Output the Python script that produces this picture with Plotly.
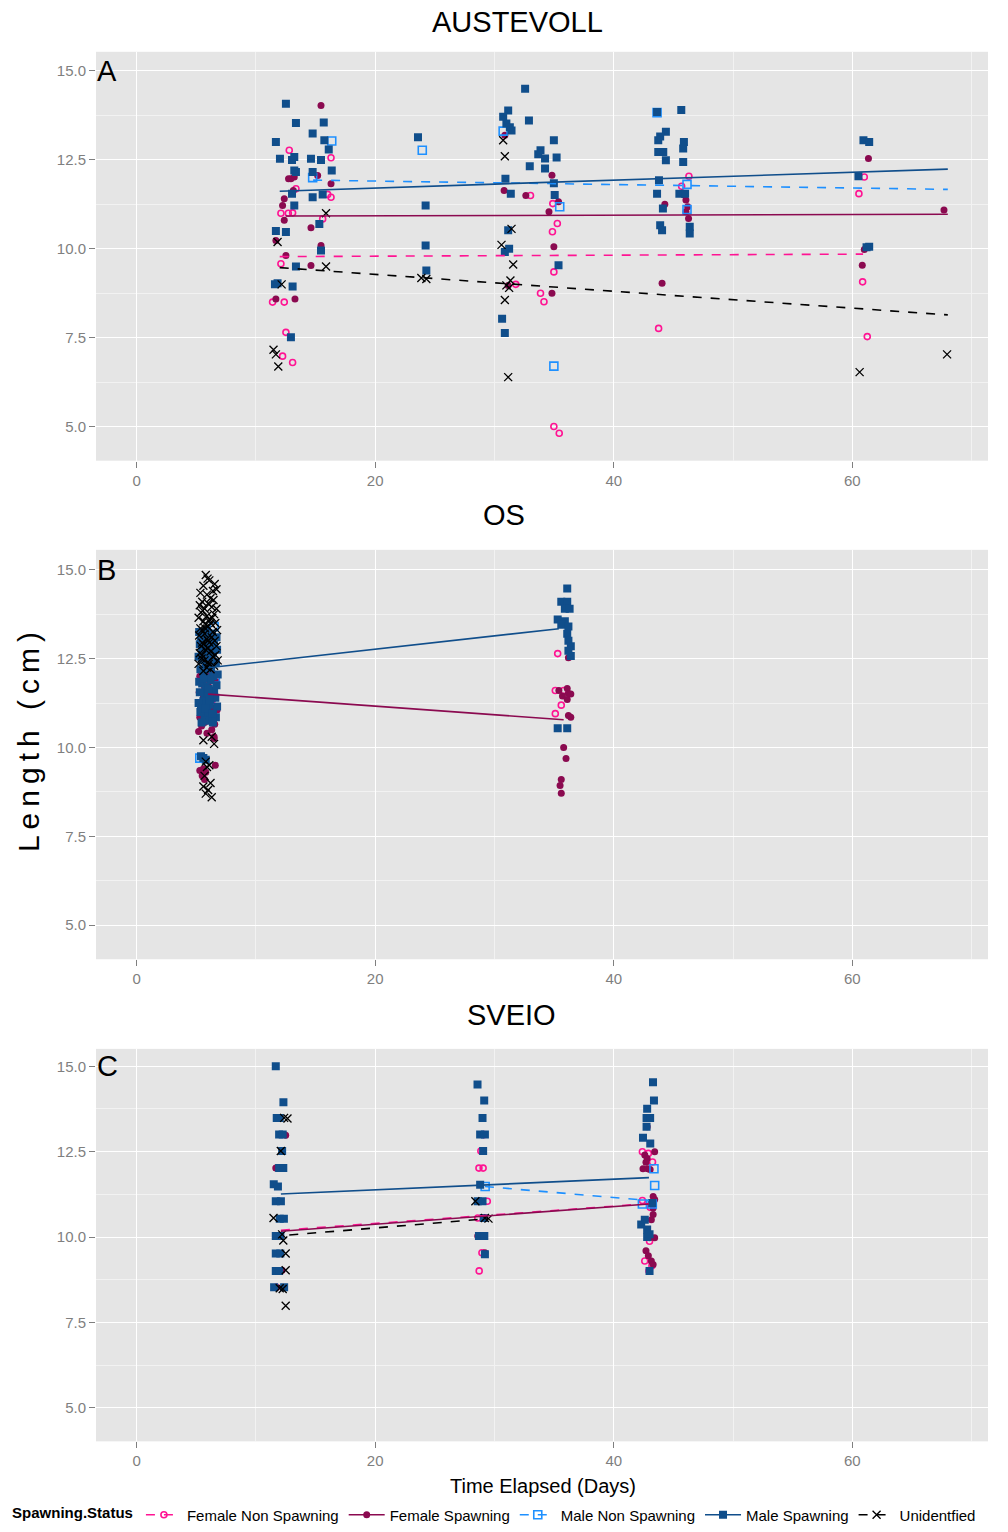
import plotly.graph_objects as go

# ---------------- DATA ----------------
categories = ["Female Non Spawning", "Female Spawning", "Male Non Spawning", "Male Spawning", "Unidentfied"]
panel_titles = ["AUSTEVOLL", "OS", "SVEIO"]
panel_letters = ["A", "B", "C"]
x_ticks = [0, 20, 40, 60]
y_ticks = [5.0, 7.5, 10.0, 12.5, 15.0]

# ---- Panel A : AUSTEVOLL ----
a_fns_x = [12.8, 16.3, 13.36, 16.02, 16.3, 12.1, 12.72, 13.08, 15.6, 12.1, 11.4, 12.38, 12.52, 12.24, 13.08,
           31.79, 33.86, 33.02, 34.89, 35.27, 34.86, 34.98, 34.15, 34.98, 35.43, 43.76, 45.69, 46.3, 60.55, 61.0, 60.86, 61.25]
a_fns_y = [12.77, 12.56, 11.69, 11.53, 11.45, 11.0, 11.0, 11.01, 10.84, 9.58, 8.5, 8.5, 7.65, 6.98, 6.8,
           9.0, 8.75, 11.5, 11.27, 10.71, 10.48, 9.35, 8.51, 5.0, 4.81, 7.76, 11.76, 12.04, 11.55, 12.02, 9.07, 7.53]
a_fs_x = [15.46, 13.22, 12.94, 12.74, 15.18, 16.3, 13.14, 12.38, 12.24, 12.38, 14.62, 11.68, 15.46, 12.52, 14.62, 11.68, 13.28,
          30.87, 30.81, 32.63, 31.15, 34.82, 34.57, 35.37, 34.98, 34.82, 44.05, 44.28, 45.95, 46.05, 46.05, 46.2, 46.27,
          61.35, 61.0, 60.83, 67.68]
a_fs_y = [14.03, 12.02, 11.97, 11.97, 12.06, 11.83, 11.64, 11.41, 11.22, 10.8, 10.59, 10.23, 10.09, 9.81, 9.53, 8.59, 8.59,
          13.19, 11.64, 11.5, 8.97, 12.07, 11.04, 11.32, 10.06, 8.75, 9.03, 11.25, 11.51, 11.37, 11.04, 11.18, 10.85,
          12.54, 9.98, 9.54, 11.09]
a_mns_x = [16.36, 14.76, 23.95, 30.73, 35.47, 34.98, 43.63, 46.14, 46.14]
a_mns_y = [13.03, 12.0, 12.77, 13.31, 11.18, 6.7, 13.83, 11.81, 11.1]
a_ms_x = [12.52, 13.36, 15.69, 14.76, 11.68, 15.74, 16.11, 12.02, 13.03, 13.22, 14.62, 15.46, 16.36, 13.22, 13.36, 14.76,
          13.03, 14.76, 15.6, 13.22, 15.32, 11.68, 12.52, 15.46, 13.36, 11.6, 11.82, 13.08, 12.94,
          23.59, 24.23, 24.23, 24.29, 31.15, 30.73, 31.0, 31.29, 31.43, 30.92, 31.37, 31.15, 31.23, 30.87, 30.64, 30.87,
          32.57, 32.89, 33.86, 33.67, 34.24, 32.96, 34.24, 34.98, 35.21, 34.98, 35.05, 35.37,
          43.63, 45.66, 44.37, 43.89, 43.73, 45.88, 45.82, 43.73, 44.15, 44.37, 45.82, 43.79, 43.63, 45.5, 45.98, 44.12,
          43.89, 44.05, 46.37, 46.37, 60.93, 61.41, 60.51, 61.41, 61.19]
a_ms_y = [14.08, 13.54, 13.55, 13.24, 13.0, 13.05, 12.79, 12.53, 12.5, 12.58, 12.53, 12.5, 12.2, 12.2, 12.16, 12.16,
          11.55, 11.45, 11.53, 11.22, 10.7, 10.5, 10.47, 9.95, 9.5, 9.0, 9.03, 8.94, 7.51,
          13.14, 11.22, 10.09, 9.39, 13.89, 13.71, 13.52, 13.42, 13.33, 11.97, 11.55, 10.52, 10.0, 9.91, 8.03, 7.63,
          14.5, 13.61, 12.77, 12.66, 12.54, 12.32, 12.26, 13.05, 12.57, 11.84, 11.51, 9.54,
          13.85, 13.9, 13.29, 13.16, 13.05, 13.0, 12.82, 12.72, 12.72, 12.49, 12.44, 11.93, 11.55, 11.55, 11.55, 11.13,
          10.66, 10.52, 10.62, 10.43, 13.05, 13.0, 12.04, 10.06, 10.04]
a_un_x = [15.88, 11.82, 15.88, 12.16, 11.48, 11.68, 11.88, 23.87, 24.29, 30.73, 30.87, 31.43, 30.59, 31.57,
          31.34, 31.0, 31.23, 30.87, 31.15, 60.61, 67.94]
a_un_y = [11.0, 10.19, 9.5, 9.0, 7.16, 7.03, 6.69, 9.18, 9.15, 13.05, 12.6, 10.56, 10.11, 9.56,
          9.11, 8.97, 8.9, 8.56, 6.39, 6.53, 7.03]

# fitted trend lines (start / end) per category, panel A
a_fit_x = {"Female Non Spawning": [12.0, 60.9], "Female Spawning": [12.5, 68.0],
           "Male Non Spawning": [14.8, 68.0], "Male Spawning": [12.0, 68.0], "Unidentfied": [12.0, 68.0]}
a_fit_y = {"Female Non Spawning": [9.78, 9.85], "Female Spawning": [10.92, 10.97],
           "Male Non Spawning": [11.93, 11.67], "Male Spawning": [11.62, 12.24], "Unidentfied": [9.47, 8.14]}

# ---- Panel B : OS ----
b_fns_x = [5.7, 6.3, 35.3, 35.1, 35.8, 35.6, 35.1]
b_fns_y = [12.6, 11.3, 12.64, 11.6, 11.6, 11.19, 10.95]
b_fs_x = [5.6, 6.2, 5.8, 6.4, 5.5, 6.0, 5.7, 6.3, 5.9, 5.6, 6.1, 5.8, 6.4, 5.5, 6.0, 6.2, 5.7, 6.3, 5.9, 6.5, 5.6, 5.8, 5.5, 5.7,
          5.3, 6.7, 5.25, 6.6, 5.4, 6.75, 5.3, 6.55, 5.2, 6.5, 6.1, 5.75, 6.4, 5.45, 6.6, 5.3,
          36.2, 35.4, 36.1, 36.2, 35.7, 36.4, 36.1, 36.2, 36.4, 35.8, 36.0, 35.6, 35.5, 35.6]
b_fs_y = [12.2, 12.1, 12.0, 11.9, 11.8, 11.75, 11.7, 11.6, 11.5, 11.4, 11.3, 11.2, 11.1, 11.0, 10.9, 10.8, 10.7, 10.5,
          10.4, 10.3, 9.4, 9.3, 9.2, 9.1,
          12.0, 11.85, 11.55, 11.45, 11.25, 11.05, 10.85, 10.65, 10.45, 10.25, 12.15, 11.35, 11.6, 10.6, 9.5, 9.35,
          12.52, 11.6, 11.66, 11.52, 11.45, 11.5, 11.35, 10.9, 10.85, 10.0, 9.69, 9.1, 8.93, 8.71]
b_mns_x = [6.5, 6.6, 5.3]
b_mns_y = [13.4, 11.95, 9.7]
b_ms_x = [5.9, 6.3, 5.6, 6.1, 5.4, 6.5, 5.8, 6.2, 5.5, 6.0, 6.4, 5.7, 6.1, 5.5, 6.3, 5.8, 6.0, 5.6, 6.4, 5.9, 6.2, 5.5,
          5.8, 6.5, 5.7, 6.0, 6.3, 5.6, 6.1, 5.4, 5.9, 6.4, 5.7, 6.2, 5.8, 5.4, 5.6, 5.8,
          5.25, 6.7, 5.3, 6.75, 5.2, 6.65, 5.35, 6.8, 5.25, 6.7, 5.3, 6.6, 5.2, 6.75, 5.35, 6.65, 5.45, 6.4, 6.05, 5.65,
          6.25, 5.85, 6.15, 5.75, 6.35,
          36.1, 35.6, 36.1, 35.9, 36.3, 35.3, 35.9, 35.6, 36.2, 36.1, 36.2, 36.4, 36.2, 36.4, 35.3, 36.1]
b_ms_y = [13.3, 13.2, 13.15, 13.1, 13.0, 12.95, 12.9, 12.85, 12.8, 12.7, 12.65, 12.6, 12.5, 12.45, 12.4, 12.3, 12.2,
          12.1, 12.0, 11.95, 11.9, 11.8, 11.7, 11.6, 11.5, 11.45, 11.4, 11.3, 11.2, 11.1, 11.0, 10.95, 10.9, 10.8, 10.75,
          9.75, 9.7, 9.65,
          13.25, 13.1, 12.9, 12.75, 12.55, 12.4, 12.2, 12.05, 11.85, 11.75, 11.55, 11.4, 11.25, 11.15, 11.0, 10.85,
          10.7, 10.7, 11.65, 11.95, 12.25, 12.55, 11.35, 11.1, 10.95,
          14.47, 14.1, 14.1, 13.9, 13.9, 13.6, 13.55, 13.45, 13.4, 13.2, 13.0, 12.85, 12.72, 12.57, 10.54, 10.54]
b_un_x = [5.8, 6.1, 5.6, 6.4, 5.9, 6.2, 5.5, 6.0, 6.3, 5.7, 5.4, 6.5, 5.9, 6.1, 5.6, 6.2, 5.8, 6.0, 5.5, 6.4, 5.7,
          6.3, 5.9, 6.1, 5.6, 6.0, 5.8, 6.2, 5.5, 6.4, 5.7, 6.0, 6.3, 5.6, 6.5, 5.8, 6.1, 5.9, 5.7, 6.2, 5.6, 6.0, 5.8, 6.3,
          5.3, 6.7, 5.2, 6.6, 5.35, 6.75, 5.25, 6.55, 5.4, 6.7, 5.3, 6.6, 5.45, 6.8, 5.2, 6.5, 5.9, 6.2, 5.6, 6.0,
          5.75, 6.35, 5.55, 6.05, 6.45, 5.35, 6.55, 5.95, 6.7, 5.5]
b_un_y = [14.85, 14.7, 14.55, 14.4, 14.3, 14.2, 14.1, 14.05, 13.95, 13.9, 13.8, 13.75, 13.7, 13.6, 13.55, 13.5, 13.45,
          13.4, 13.3, 13.25, 13.2, 13.1, 13.05, 12.95, 12.9, 12.8, 12.75, 12.7, 12.6, 12.55, 12.45, 12.4,
          10.3, 10.2, 10.1, 9.6, 9.5, 9.45, 9.2, 9.0, 8.9, 8.8, 8.7, 8.6,
          14.0, 13.9, 13.65, 13.5, 13.35, 13.3, 13.15, 13.0, 12.85, 12.85, 12.65, 12.6, 12.5, 12.45, 12.35, 12.3,
          12.25, 12.2, 12.15, 13.0, 13.35, 13.65, 13.85, 12.35, 14.15, 14.35, 14.6, 14.75, 14.45, 12.95]
b_fit_x = {"Female Spawning": [6.0, 35.8], "Male Spawning": [6.0, 35.4]}
b_fit_y = {"Female Spawning": [11.5, 10.78], "Male Spawning": [12.24, 13.34]}

# ---- Panel C : SVEIO ----
c_fns_x = [11.7, 29.14, 28.86, 28.7, 29.05, 29.4, 28.6, 29.0, 28.95, 28.72,
           42.4, 42.9, 43.25, 43.05, 42.4, 42.9, 43.0, 42.6, 43.2, 42.95]
c_fns_y = [8.53, 13.0, 12.52, 12.02, 12.02, 11.05, 10.56, 10.03, 9.54, 9.01,
           12.5, 12.45, 12.2, 10.87, 11.07, 10.03, 9.88, 9.3, 9.16, 9.01]
c_fs_x = [11.67, 12.5, 12.05, 12.05, 12.2, 11.7,
          28.7, 28.6, 29.1, 29.2,
          42.8, 43.43, 42.6, 42.8, 42.7, 42.45, 42.85, 43.05, 43.3, 43.43, 43.3, 43.3, 43.15, 43.0, 43.43, 42.7,
          42.9, 43.15, 43.3]
c_fs_y = [12.02, 12.98, 11.05, 9.52, 9.03, 8.53,
          11.05, 10.03, 10.03, 9.54,
          13.23, 12.5, 12.4, 12.3, 12.19, 12.0, 12.0, 11.98, 11.19, 11.1, 10.85, 10.66, 10.51, 9.98, 9.98, 9.6,
          9.45, 9.3, 9.2]
c_mns_x = [29.22, 43.37, 43.43, 42.4, 43.23]
c_mns_y = [11.48, 12.0, 11.51, 10.97, 10.97]
c_ms_x = [11.67, 12.31, 11.75, 12.0, 11.95, 12.25, 12.2, 11.95, 12.3, 11.5, 11.85, 11.67, 12.1, 12.0, 12.35,
          11.67, 12.05, 11.67, 12.05, 11.67, 11.95, 11.53, 12.37,
          28.58, 29.14, 29.0, 28.8, 29.2, 29.05, 28.8, 28.6, 29.0, 29.1, 28.7, 29.15, 29.2,
          43.29, 43.37, 42.8, 42.75, 43.05, 42.75, 42.45, 43.06, 43.23, 42.6, 42.3, 42.8, 43.0, 42.8, 43.0]
c_ms_y = [15.0, 13.95, 13.49, 13.49, 13.0, 13.0, 12.52, 12.02, 12.02, 11.55, 11.48, 11.05, 11.05, 10.54, 10.54,
          10.03, 10.03, 9.52, 9.52, 9.01, 9.01, 8.53, 8.53,
          14.47, 14.0, 13.49, 13.0, 13.0, 12.52, 11.53, 11.05, 11.05, 10.56, 10.03, 10.03, 9.5,
          14.53, 14.0, 13.76, 13.49, 13.49, 13.23, 12.91, 12.74, 11.0, 10.51, 10.37, 10.22, 10.08, 10.0, 9.01]
c_un_x = [12.37, 12.65, 12.09, 11.48, 12.2, 12.3, 12.5, 12.5, 12.0, 12.25, 12.5, 28.4, 29.5, 29.2]
c_un_y = [13.49, 13.47, 12.52, 10.56, 10.08, 9.9, 9.52, 9.03, 8.5, 8.48, 7.99, 11.05, 10.54, 10.56]
c_fit_x = {"Female Non Spawning": [12.1, 42.95], "Female Spawning": [12.1, 42.95],
           "Male Non Spawning": [29.2, 42.95], "Male Spawning": [12.1, 42.95], "Unidentfied": [12.8, 29.5]}
c_fit_y = {"Female Non Spawning": [10.2, 10.98], "Female Spawning": [10.17, 10.97],
           "Male Non Spawning": [11.48, 11.07], "Male Spawning": [11.26, 11.74], "Unidentfied": [10.06, 10.54]}

# ---------------- STYLE ----------------
colors = {"Female Non Spawning": "#FF1493", "Female Spawning": "#8B0A50",
          "Male Non Spawning": "#1E90FF", "Male Spawning": "#104E8B", "Unidentfied": "#000000"}
markers = {"Female Non Spawning": dict(symbol="circle-open", size=6, line=dict(width=1.6)),
           "Female Spawning": dict(symbol="circle", size=7),
           "Male Non Spawning": dict(symbol="square-open", size=8, line=dict(width=1.6)),
           "Male Spawning": dict(symbol="square", size=8),
           "Unidentfied": dict(symbol="x-thin-open", size=8, line=dict(width=1.3))}
dashes = {"Female Non Spawning": "dash", "Female Spawning": "solid", "Male Non Spawning": "dash",
          "Male Spawning": "solid", "Unidentfied": "dash"}

panels = [
    dict(pts={"Female Non Spawning": (a_fns_x, a_fns_y), "Female Spawning": (a_fs_x, a_fs_y),
              "Male Non Spawning": (a_mns_x, a_mns_y), "Male Spawning": (a_ms_x, a_ms_y),
              "Unidentfied": (a_un_x, a_un_y)}, fx=a_fit_x, fy=a_fit_y),
    dict(pts={"Female Non Spawning": (b_fns_x, b_fns_y), "Female Spawning": (b_fs_x, b_fs_y),
              "Male Non Spawning": (b_mns_x, b_mns_y), "Male Spawning": (b_ms_x, b_ms_y),
              "Unidentfied": (b_un_x, b_un_y)}, fx=b_fit_x, fy=b_fit_y),
    dict(pts={"Female Non Spawning": (c_fns_x, c_fns_y), "Female Spawning": (c_fs_x, c_fs_y),
              "Male Non Spawning": (c_mns_x, c_mns_y), "Male Spawning": (c_ms_x, c_ms_y),
              "Unidentfied": (c_un_x, c_un_y)}, fx=c_fit_x, fy=c_fit_y),
]

W, H = 1008, 1532
x_dom = [96 / W, 988 / W]
y_px = [(52, 462.5), (552, 963), (1053, 1447)]
y_ranges = [[4.04, 15.54], [4.04, 15.56], [4.02, 15.51]]
x_range = [-3.40, 71.37]
title_px = [(517, 22), (504, 517), (511, 1019)]

fig = go.Figure()

for i, p in enumerate(panels):
    xa = "x" if i == 0 else f"x{i+1}"
    ya = "y" if i == 0 else f"y{i+1}"
    for cat in categories:
        xs, ys = p["pts"][cat]
        m = dict(markers[cat])
        m["color"] = colors[cat]
        if "line" in m:
            m["line"] = dict(m["line"], color=colors[cat])
        fig.add_trace(go.Scatter(x=xs, y=ys, mode="markers", marker=m, xaxis=xa, yaxis=ya,
                                 showlegend=False, hoverinfo="skip"))
    for cat in categories:
        if cat in p["fx"]:
            fig.add_trace(go.Scatter(x=p["fx"][cat], y=p["fy"][cat], mode="lines",
                                     line=dict(color=colors[cat], width=1.6, dash=dashes[cat]),
                                     xaxis=xa, yaxis=ya, showlegend=False, hoverinfo="skip"))

# legend entries
for cat in categories:
    m = dict(markers[cat])
    m["color"] = colors[cat]
    if "line" in m:
        m["line"] = dict(m["line"], color=colors[cat])
    fig.add_trace(go.Scatter(x=[None], y=[None], mode="lines+markers", name=cat, marker=m,
                             line=dict(color=colors[cat], width=1.6, dash=dashes[cat]), showlegend=True))

tickfont = dict(family="Liberation Sans, Arial, sans-serif", size=15, color="#7F7F7F")
layout = dict(
    width=W, height=H, margin=dict(l=0, r=0, t=0, b=0),
    paper_bgcolor="white", plot_bgcolor="#E5E5E5",
    font=dict(family="Liberation Sans, Arial, sans-serif"),
    showlegend=True,
    legend=dict(orientation="h", x=0.01, xanchor="left", y=1 - 1521 / H, yanchor="middle",
                font=dict(size=15, color="#000000"),
                title=dict(text="<b>Spawning.Status</b>", side="left", font=dict(size=15)),
                itemwidth=36, tracegroupgap=0),
)
for i in range(3):
    sfx = "" if i == 0 else str(i + 1)
    top, bot = y_px[i]
    layout["xaxis" + sfx] = dict(domain=x_dom, range=x_range, anchor="y" + sfx,
                                 tickmode="array", tickvals=x_ticks, ticks="outside", ticklen=6,
                                 tickcolor="#7F7F7F", tickwidth=1.3, tickfont=tickfont,
                                 showgrid=True, gridcolor="white", gridwidth=1.3, zeroline=False,
                                 showline=False,
                                 minor=dict(tickmode="linear", tick0=0, dtick=10, showgrid=True,
                                            gridcolor="#F2F2F2", gridwidth=0.7, ticks=""))
    layout["yaxis" + sfx] = dict(domain=[1 - bot / H, 1 - top / H], range=y_ranges[i],
                                 anchor="x" + sfx, tickmode="array", tickvals=y_ticks,
                                 tickformat=".1f", ticks="outside", ticklen=6, tickcolor="#7F7F7F",
                                 tickwidth=1.3, tickfont=tickfont, showgrid=True, gridcolor="white",
                                 gridwidth=1.3, zeroline=False, showline=False,
                                 minor=dict(tickmode="linear", tick0=0, dtick=1.25, showgrid=True,
                                            gridcolor="#F2F2F2", gridwidth=0.7, ticks=""))
fig.update_layout(**layout)

ann = []
for i in range(3):
    tx, ty = title_px[i]
    ann.append(dict(text=panel_titles[i], x=tx / W, y=1 - ty / H, xref="paper", yref="paper",
                    xanchor="center", yanchor="middle", showarrow=False,
                    font=dict(size=29, color="black")))
    sfx = "" if i == 0 else str(i + 1)
    ann.append(dict(text=panel_letters[i], x=0, y=15.0, xref=("x" + sfx + " domain"), yref=("y" + sfx),
                    xanchor="left", yanchor="middle", showarrow=False, borderpad=0,
                    font=dict(size=29, color="black")))
ann.append(dict(text="L\u2009e\u2009n\u2009g\u2009t\u2009h\u2009 \u2009(\u2009c\u2009m\u2009)", textangle=-90,
                x=28 / W, y=1 - 745 / H, xref="paper", yref="paper", xanchor="center", yanchor="middle",
                showarrow=False, font=dict(size=30, color="black")))
ann.append(dict(text="Time Elapsed (Days)", x=543 / W, y=1 - 1492 / H, xref="paper", yref="paper",
                xanchor="center", yanchor="middle", showarrow=False, font=dict(size=20, color="black")))
fig.update_layout(annotations=ann)

fig.write_html("out.html")
